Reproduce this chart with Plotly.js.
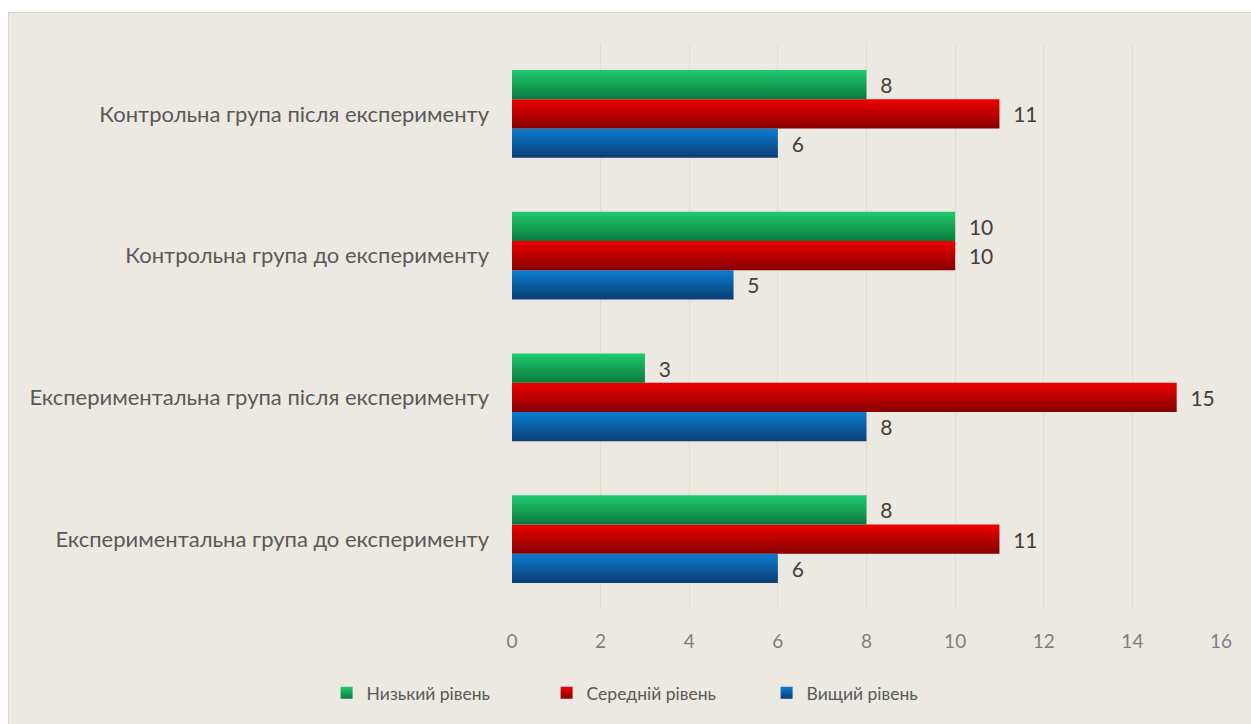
<!DOCTYPE html>
<html>
<head>
<meta charset="utf-8">
<script src="https://cdn.plot.ly/plotly-3.0.1.min.js"></script>
<style>
html,body{margin:0;padding:0;background:#ffffff;width:1251px;height:724px;overflow:hidden;}
#chart{position:absolute;left:8px;top:12px;width:1243px;height:712px;border-left:1px solid #D6D3CB;border-top:1px solid #D6D3CB;box-sizing:border-box;}
</style>
</head>
<body>
<div id="chart"></div>
<script>
const categories = [
  "Експериментальна група до експерименту",
  "Експериментальна група після експерименту",
  "Контрольна група до експерименту",
  "Контрольна група після експерименту"
];
const seriesNames = ["Низький рівень", "Середній рівень", "Вищий рівень"];
const lowLevel = [8, 3, 10, 8];
const midLevel = [11, 15, 10, 11];
const highLevel = [6, 8, 5, 6];
const xTicks = [0, 2, 4, 6, 8, 10, 12, 14, 16];

const colors = {
  low: ["#1FCB6E", "#0A7A3E", "#13A456"],
  mid: ["#EE0000", "#860000", "#C00000"],
  high: ["#0B7DCF", "#0A3D74", "#0E63A8"]
};

function barTrace(name, vals, col) {
  return {
    type: "bar", orientation: "h", name: name,
    y: categories, x: vals,
    marker: {color: col[2], line: {width: 0}},
    text: vals.map(String),
    texttemplate: "\u00a0\u00a0%{x}",
    textposition: "outside",
    cliponaxis: false,
    textfont: {family: "Lato, Open Sans, sans-serif", size: 21, color: "#404040"},
    hoverinfo: "skip"
  };
}

const data = [
  barTrace(seriesNames[2], highLevel, colors.high),
  barTrace(seriesNames[1], midLevel, colors.mid),
  barTrace(seriesNames[0], lowLevel, colors.low)
];

const layout = {
  width: 1243, height: 712,
  paper_bgcolor: "#ECE9E2",
  plot_bgcolor: "#ECE9E2",
  margin: {l: 503, r: 31, t: 30, b: 115},
  barmode: "group",
  bargap: 0.38,
  bargroupgap: 0,
  font: {family: "Lato, Open Sans, sans-serif", color: "#595959"},
  xaxis: {
    range: [0, 16], tickvals: xTicks, ticktext: xTicks.map(String),
    showgrid: true, gridcolor: "#E0DDD5", gridwidth: 1,
    zeroline: false, showline: false, ticks: "",
    tickfont: {family: "Lato, Open Sans, sans-serif", size: 19, color: "#7F7F7F"},
    ticklabelstandoff: 18, fixedrange: true
  },
  yaxis: {
    type: "category", categoryorder: "array", categoryarray: categories,
    showgrid: false, zeroline: false, showline: false, ticks: "",
    tickfont: {family: "Lato, Open Sans, sans-serif", size: 22, color: "#595959"},
    ticklabelstandoff: 22, fixedrange: true
  },
  showlegend: true,
  legend: {
    orientation: "h", traceorder: "reversed",
    xref: "container", yref: "container",
    x: 0.521, xanchor: "center", y: 0.045, yanchor: "middle",
    font: {family: "Lato, Open Sans, sans-serif", size: 17.5, color: "#595959"},
    bgcolor: "rgba(0,0,0,0)", itemwidth: 30, entrywidth: 175
  }
};

const gd = document.getElementById("chart");
Plotly.newPlot(gd, data, layout, {displayModeBar: false, staticPlot: true}).then(function () {
  const svg = gd.querySelector(".main-svg");
  const ns = "http://www.w3.org/2000/svg";
  let defs = svg.querySelector("defs");
  if (!defs) { defs = document.createElementNS(ns, "defs"); svg.insertBefore(defs, svg.firstChild); }
  const grads = [colors.high, colors.mid, colors.low];
  grads.forEach(function (c, i) {
    const g = document.createElementNS(ns, "linearGradient");
    g.setAttribute("id", "bargrad" + i);
    g.setAttribute("x1", "0"); g.setAttribute("y1", "0");
    g.setAttribute("x2", "0"); g.setAttribute("y2", "1");
    const s1 = document.createElementNS(ns, "stop");
    s1.setAttribute("offset", "0"); s1.setAttribute("stop-color", c[0]);
    const s2 = document.createElementNS(ns, "stop");
    s2.setAttribute("offset", "1"); s2.setAttribute("stop-color", c[1]);
    g.appendChild(s1); g.appendChild(s2); defs.appendChild(g);
  });
  const traces = gd.querySelectorAll(".barlayer .trace");
  traces.forEach(function (t, i) {
    t.querySelectorAll(".point path").forEach(function (p) {
      p.style.fill = "url(#bargrad" + i + ")";
    });
  });
  gd.querySelectorAll(".legend .traces").forEach(function (t) {
    const name = t.textContent;
    const idx = name === seriesNames[2] ? 0 : name === seriesNames[1] ? 1 : 2;
    t.querySelectorAll(".legendpoints path").forEach(function (p) {
      p.style.fill = "url(#bargrad" + idx + ")";
    });
  });
});
</script>
</body>
</html>
